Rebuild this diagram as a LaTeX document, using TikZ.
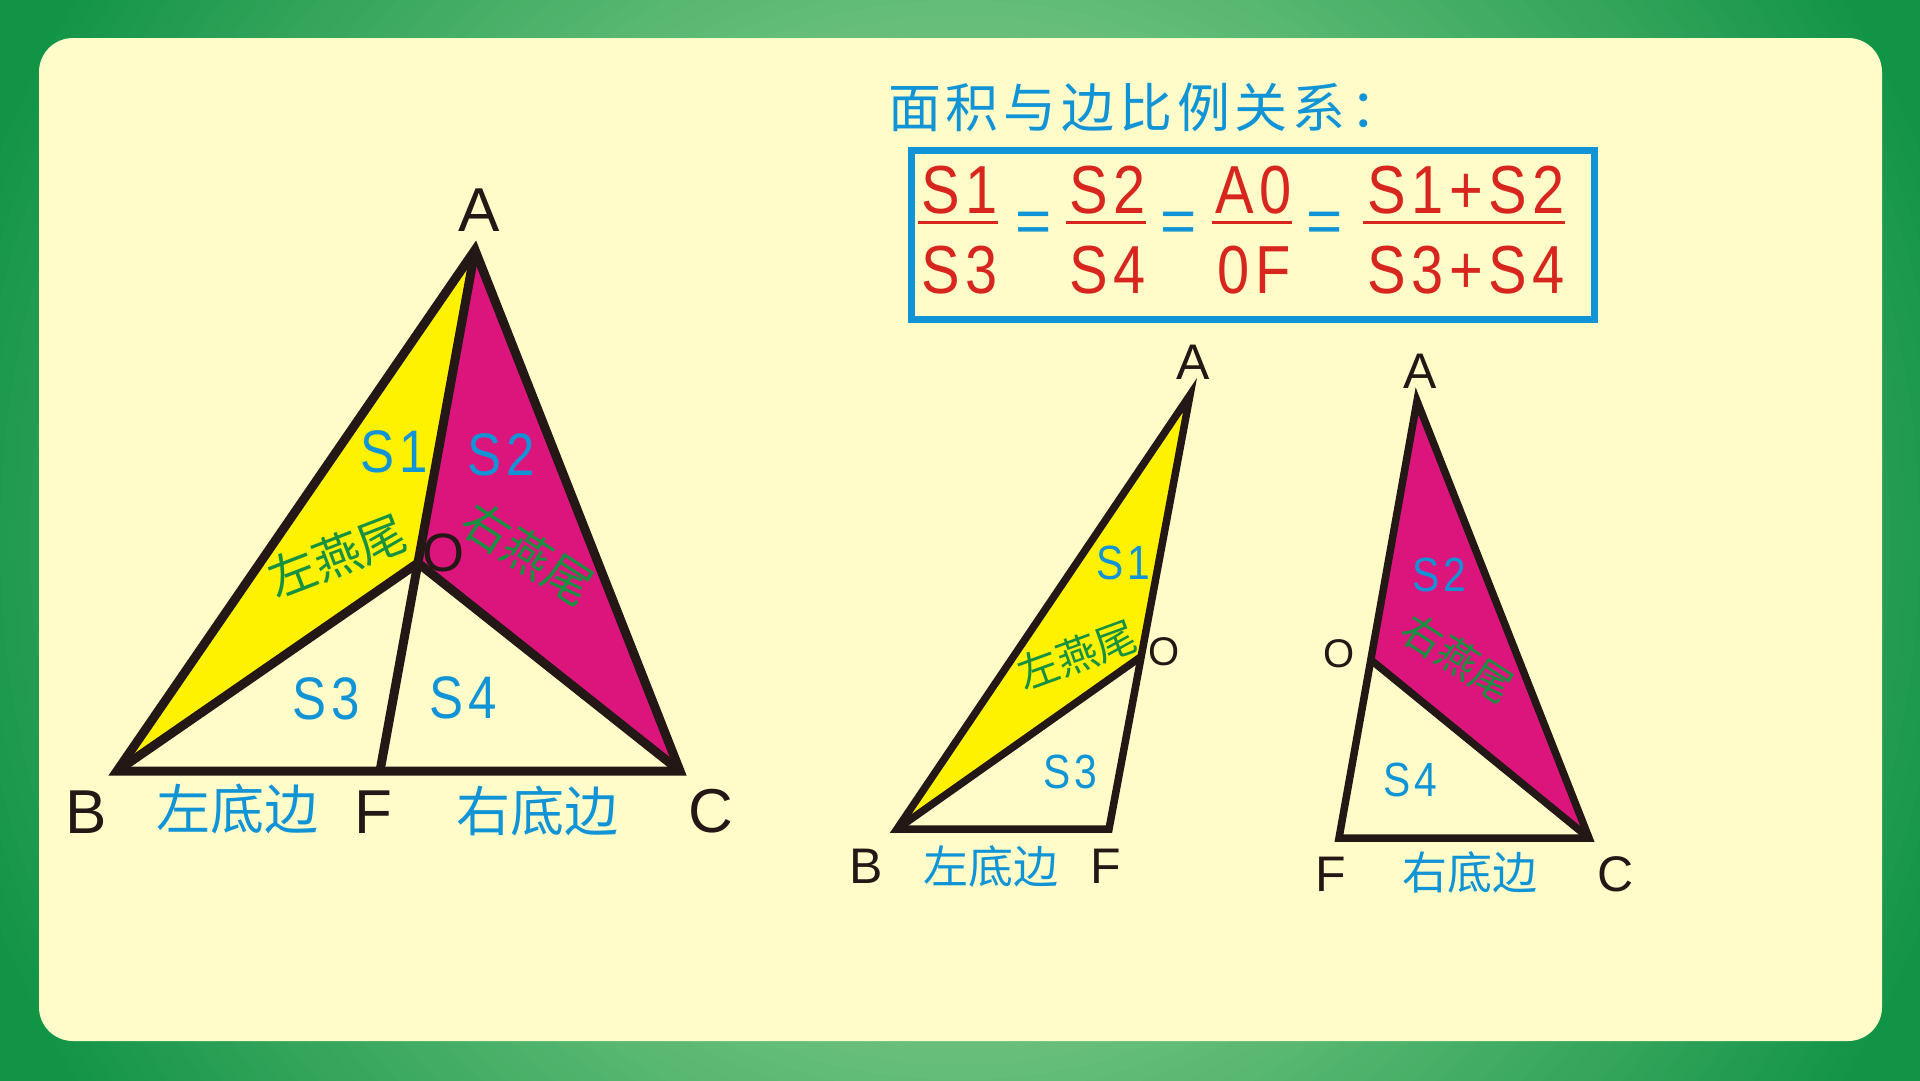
\documentclass[tikz,border=0pt]{standalone}
\usepackage{fontspec}
\setmainfont{Liberation Sans}
\newfontfamily\cjk{Noto Sans CJK SC}
\newfontfamily\cjkwide[LetterSpace=9]{Noto Sans CJK SC}
\newfontfamily\narrowsans[FakeStretch=0.85, LetterSpace=8]{Liberation Sans}
\usetikzlibrary{positioning}
\definecolor{frameDark}{HTML}{129447}
\definecolor{frameLight}{HTML}{6AC07C}
\definecolor{paper}{HTML}{FFFCC9}
\definecolor{ink}{HTML}{231815}
\definecolor{skyblue}{HTML}{1094D6}
\definecolor{leafgreen}{HTML}{17903F}
\definecolor{brickred}{HTML}{D7261E}
\definecolor{lemon}{HTML}{FFF200}
\definecolor{rose}{HTML}{DC157D}
\def\fsz#1{\fontsize{#1}{#1}\selectfont}
\tikzstyle{every node} = [inner sep=0pt]
\tikzstyle{edge}       = [draw=ink, line width=9pt]
\tikzstyle{edgesmall}  = [draw=ink, line width=7.5pt]
\tikzstyle{vertex}     = [text=ink, font=\fsz{62}]
\tikzstyle{vertexsmall}= [text=ink, font=\fsz{50}]
\tikzstyle{area}       = [text=skyblue, font=\narrowsans\fsz{60}]
\tikzstyle{areasmall}  = [text=skyblue, font=\narrowsans\fsz{48}]
\tikzstyle{base}       = [text=skyblue, font=\cjk\fsz{54}]
\tikzstyle{basesmall}  = [text=skyblue, font=\cjk\fsz{45}]
\tikzstyle{tail}       = [text=leafgreen, font=\cjk\fsz{48}]
\tikzstyle{tailsmall}  = [text=leafgreen, font=\cjk\fsz{41}]
\tikzstyle{ratio}      = [text=brickred, font=\narrowsans\fsz{68}]
\tikzstyle{equal}      = [text=skyblue, font=\fsz{62}]
\tikzstyle{fracbar}    = [draw=brickred, line width=3.5pt]
\tikzstyle{formulabox} = [draw=skyblue, line width=7pt]

\begin{document}
\begin{tikzpicture}[x=1pt, y=-1pt]
\useasboundingbox (0,0) rectangle (1920,1080);
% Frame
    \begin{scope}
        \clip (0,0) rectangle (1920,1080);
        \fill[frameDark] (0,0) rectangle (1920,1080);
        \foreach \r [evaluate=\r as \p using {min(100,max(0,(\r-500)/5.5))}] in {1110,1095,...,480}
            \fill[frameDark!\p!frameLight] (960,540) circle (\r pt);
    \end{scope}
    \fill[paper, rounded corners=34pt] (39,38) rectangle (1882,1041);

% Big triangle
    \coordinate (A) at (475,250);
    \coordinate (B) at (117,771);
    \coordinate (C) at (680,771);
    \coordinate (F) at (380,771);
    \coordinate (O) at (418,563);
    \fill[lemon] (A) -- (B) -- (O) -- cycle;
    \fill[rose]  (A) -- (O) -- (C) -- cycle;
    \draw[edge] (A) -- (B) -- (C) -- cycle;
    \draw[edge] (B) -- (O) -- (C);
    \draw[edge] (A) -- (F);

% Left part
    \coordinate (A2) at (1190,395);
    \coordinate (B2) at (897,829);
    \coordinate (F2) at (1109,829);
    \coordinate (O2) at (1142,656);
    \fill[lemon] (A2) -- (B2) -- (O2) -- cycle;
    \draw[edgesmall] (A2) -- (B2) -- (F2) -- cycle;
    \draw[edgesmall] (B2) -- (O2);

% Right part
    \coordinate (A3) at (1417,401);
    \coordinate (F3) at (1339,838);
    \coordinate (C3) at (1589,838);
    \coordinate (O3) at (1371,660);
    \fill[rose] (A3) -- (O3) -- (C3) -- cycle;
    \draw[edgesmall] (A3) -- (F3) -- (C3) -- cycle;
    \draw[edgesmall] (O3) -- (C3);

% Vertex texts
    \node (lA)  [vertex] at (479,210) {A};
    \node (lB)  [vertex] at (86,812)  {B};
    \node (lF)  [vertex] at (373,812) {F};
    \node (lC)  [vertex] at (711,811) {C};
    \node (lO)  [vertex, font=\fsz{54}] at (443,553) {O};
    \node (lA2) [vertexsmall] at (1193,362) {A};
    \node (lB2) [vertexsmall] at (866,866)  {B};
    \node (lF2) [vertexsmall] at (1106,866) {F};
    \node (lO2) [vertexsmall, font=\fsz{40}] at (1164,652) {O};
    \node (lA3) [vertexsmall] at (1420,371) {A};
    \node (lO3) [vertexsmall, font=\fsz{40}] at (1339,654) {O};
    \node (lF3) [vertexsmall] at (1331,874) {F};
    \node (lC3) [vertexsmall] at (1616,874) {C};

% Area texts
    \node (s1)  [area] at (394,452) {S1};
    \node (s2)  [area] at (501,455) {S2};
    \node (s3)  [area] at (326,699) {S3};
    \node (s4)  [area] at (463,698) {S4};
    \node (s1b) [areasmall] at (1123,563) {S1};
    \node (s3b) [areasmall] at (1070,772) {S3};
    \node (s2b) [areasmall] at (1439,575) {S2};
    \node (s4b) [areasmall] at (1410,780) {S4};

% Base and tail texts
    \node (baseL)  [base] at (237,809) {左底边};
    \node (baseR)  [base] at (537,811) {右底边};
    \node (baseL2) [basesmall] at (991,866)  {左底边};
    \node (baseR3) [basesmall] at (1470,872) {右底边};
    \node (tailL)  [tail, rotate=21]  at (337,556) {左燕尾};
    \node (tailR)  [tail, rotate=-33] at (528,553) {右燕尾};
    \node (tailL2) [tailsmall, rotate=20]  at (1077,655) {左燕尾};
    \node (tailR3) [tailsmall, rotate=-33] at (1458,658) {右燕尾};

% Formula
    \node (title) [anchor=west, text=skyblue, font=\cjkwide\fsz{53}] at (888,107) {面积与边比例关系：};
    \draw[formulabox] (911,150) rectangle (1594,319);
    \node (n1) [ratio] at (960,190)  {S1};
    \node (n2) [ratio] at (1108,190) {S2};
    \node (n3) [ratio] at (1254,190) {A0};
    \node (n4) [ratio] at (1466,190) {S1+S2};
    \node (d1) [ratio, below=32pt of n1] {S3};
    \node (d2) [ratio, below=32pt of n2] {S4};
    \node (d3) [ratio, below=32pt of n3] {0F};
    \node (d4) [ratio, below=32pt of n4] {S3+S4};
    \foreach \k in {1,2,3,4}
        \draw[fracbar] ([shift={(-4pt,-8pt)}]n\k.south west) -- ([shift={(0pt,-8pt)}]n\k.south east);
    \node (eq1) [equal] at (1034,227) {=};
    \node (eq2) [equal] at (1179,227) {=};
    \node (eq3) [equal] at (1325,227) {=};
\end{tikzpicture}
\end{document}
